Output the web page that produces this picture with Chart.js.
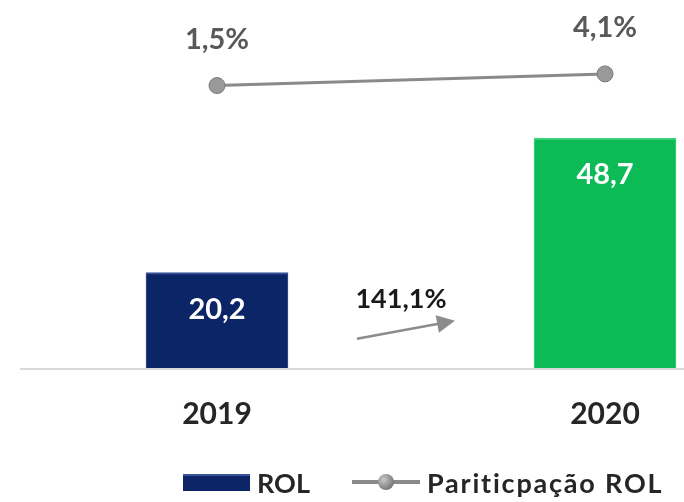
<!DOCTYPE html>
<html>
<head>
<meta charset="utf-8">
<script src="https://cdn.jsdelivr.net/npm/chart.js@4.4.1/dist/chart.umd.min.js"></script>
<style>
    html, body { margin: 0; padding: 0; background: #fff; }
    #wrap { position: relative; width: 684px; height: 502px; }
    #grafico { position: absolute; left: 0; top: 0; }
    #legenda {
        position: absolute; left: 183px; top: 469px; height: 26px;
        display: flex; align-items: center;
        font-family: Lato, "Open Sans", sans-serif; font-weight: 700; font-size: 27px; color: #262626;
    }
    .caixa { width: 67px; height: 17px; background: #0b2566; border-top: 2px solid #3a5499; box-sizing: border-box; margin-right: 7px; }
    .linha { position: relative; width: 68px; height: 4px; background: #8a8a8a; margin: 0 7px 0 42px; }
    .linha::after { content: ""; position: absolute; left: 26px; top: -6px; width: 16px; height: 16px; border-radius: 50%;
        background: radial-gradient(circle at 35% 35%, #c8c8c8, #7a7a7a 70%); }
    .largo { letter-spacing: 1.8px; }
</style>
</head>
<body>
<div id="wrap">
    <canvas id="grafico" width="684" height="502"></canvas>
    <div id="legenda">
        <span class="caixa"></span><span>ROL</span>
        <span class="linha"></span><span class="largo">Pariticpação ROL</span>
    </div>
</div>
<script>
const anos = ["2019", "2020"];
const rol = [20.2, 48.7];
const participacao = [1.5, 4.1];
const crescimento = "141,1%";

const fonte = "Lato, 'Open Sans', sans-serif";
const virgula = v => v.toFixed(1).replace(".", ",");

// rótulos, linha de base e seta de crescimento
const rotulos = {
    id: "rotulos",
    beforeDatasetsDraw(chart) {
        const ctx = chart.ctx;
        const y0 = chart.scales.y.getPixelForValue(0);
        ctx.save();
        ctx.strokeStyle = "#d9d9d9";
        ctx.lineWidth = 2;
        ctx.beginPath();
        ctx.moveTo(20, y0 + 1);
        ctx.lineTo(chart.width, y0 + 1);
        ctx.stroke();
        ctx.restore();
    },
    afterDatasetsDraw(chart) {
        const ctx = chart.ctx;
        ctx.save();
        ctx.textAlign = "center";
        ctx.textBaseline = "middle";

        const barras = chart.getDatasetMeta(0).data;
        ctx.font = "bold 29px " + fonte;
        ctx.fillStyle = "#ffffff";
        barras.forEach((b, i) => ctx.fillText(virgula(rol[i]), b.x, b.y + 37));

        const pontos = chart.getDatasetMeta(1).data;
        ctx.fillStyle = "#595959";
        pontos.forEach((p, i) => ctx.fillText(virgula(participacao[i]) + "%", p.x, p.y - 46));

        // seta entre as barras
        const x = chart.scales.x, y = chart.scales.y;
        const meio = (x.getPixelForValue(0) + x.getPixelForValue(1)) / 2;
        const xa = meio - 54, ya = y.getPixelForValue(6.2);
        const xb = meio + 44, yb = y.getPixelForValue(10);
        const ang = Math.atan2(yb - ya, xb - xa);
        ctx.strokeStyle = "#8c8c8c";
        ctx.fillStyle = "#8c8c8c";
        ctx.lineWidth = 2.5;
        ctx.beginPath();
        ctx.moveTo(xa, ya);
        ctx.lineTo(xb - 14 * Math.cos(ang), yb - 14 * Math.sin(ang));
        ctx.stroke();
        ctx.beginPath();
        ctx.moveTo(xb, yb);
        ctx.lineTo(xb - 18 * Math.cos(ang) + 9 * Math.sin(ang), yb - 18 * Math.sin(ang) - 9 * Math.cos(ang));
        ctx.lineTo(xb - 18 * Math.cos(ang) - 9 * Math.sin(ang), yb - 18 * Math.sin(ang) + 9 * Math.cos(ang));
        ctx.closePath();
        ctx.fill();

        ctx.font = "bold 27px " + fonte;
        ctx.fillStyle = "#1a1a1a";
        ctx.fillText(crescimento, meio - 10, y.getPixelForValue(14.5));
        ctx.restore();
    }
};

new Chart(document.getElementById("grafico"), {
    type: "bar",
    data: {
        labels: anos,
        datasets: [{
            label: "ROL",
            data: rol,
            backgroundColor: ["#0b2566", "#0cbb55"],
            borderColor: ["#3a5499", "#3fd67f"],
            borderWidth: { top: 2, left: 1, right: 1, bottom: 0 },
            barThickness: 142,
            clip: false,
            yAxisID: "y",
            order: 2
        }, {
            type: "line",
            label: "Pariticpação ROL",
            data: participacao,
            borderColor: "#8a8a8a",
            borderWidth: 3,
            pointRadius: 8,
            pointBackgroundColor: "#999999",
            pointBorderColor: "#7a7a7a",
            pointBorderWidth: 1,
            clip: false,
            yAxisID: "y2",
            order: 1
        }]
    },
    options: {
        responsive: false,
        animation: false,
        layout: { padding: { left: 217, right: 79, top: 0, bottom: 42 } },
        plugins: {
            legend: { display: false },
            tooltip: { enabled: false }
        },
        scales: {
            x: {
                offset: false,
                grid: { display: false, drawTicks: false },
                border: { display: false },
                ticks: { padding: 28, color: "#262626", font: { family: fonte, size: 30, weight: "bold" } }
            },
            y: { display: false, min: 0, max: 76 },
            y2: { display: false, min: -61.6, max: 18.6 }
        }
    },
    plugins: [rotulos]
});
</script>
</body>
</html>
